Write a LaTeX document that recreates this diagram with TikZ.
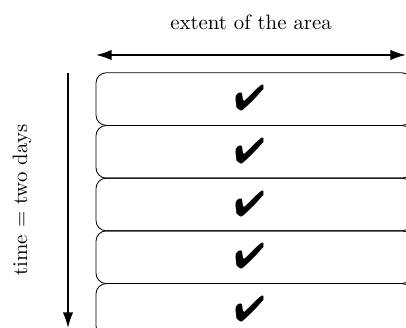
\documentclass[tikz,border=0pt]{standalone}
\usepackage{pifont}
\usetikzlibrary{arrows.meta}
\tikzstyle{slot}=[draw,rounded corners=5pt,minimum width=151.7pt,minimum height=25.3pt,inner sep=0pt]
\tikzstyle{axis}=[draw,thick,{Latex[length=7.5pt,width=5pt]}-{Latex[length=7.5pt,width=5pt]}]
\tikzstyle{timeaxis}=[draw,thick,-{Latex[length=7.5pt,width=5pt]}]
\tikzstyle{tick}=[font=\LARGE,inner sep=0pt]
\newcommand{\pxunit}{0.48pt}

\begin{document}
\begin{tikzpicture}[x=\pxunit, y=-\pxunit]
    \useasboundingbox (0,0) rectangle (406,328);
    \clip (0,0) rectangle (406,328);
    % the time slots, one under the other
    \foreach \row in {1,...,5} {
        \node[slot] (box\row) at (254, 46.4+52.7*\row) {};
        \node[tick] (check\row) at (249.5, 45.7+52.7*\row) {\ding{52}};
    }
    % extent arrow and its text
    \coordinate (areaL) at (96,55);
    \coordinate (areaR) at (406,55);
    \path[axis] (areaL) -- (areaR);
    \node (area) at (251,22) {extent of the area};
    % time arrow and its text
    \coordinate (timeT) at (68,73);
    \coordinate (timeB) at (68,328);
    \path[timeaxis] (timeT) -- (timeB);
    \node[rotate=90] (time) at (22,200) {time = two days};
\end{tikzpicture}
\end{document}
